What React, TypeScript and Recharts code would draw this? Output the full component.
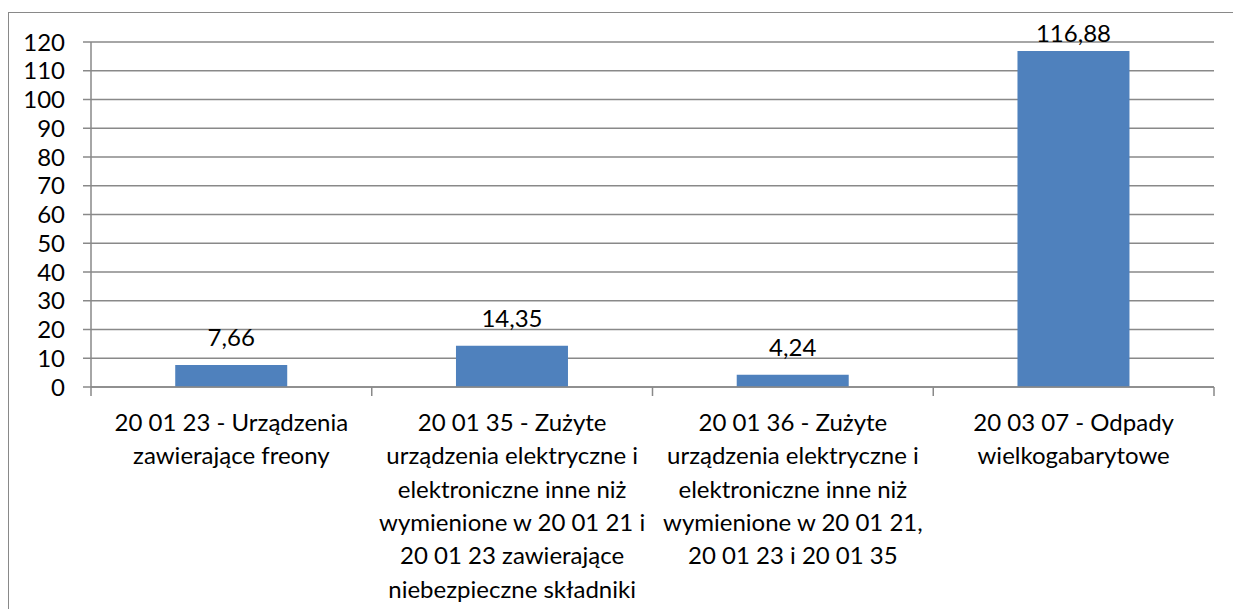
import { BarChart, Bar, XAxis, YAxis, CartesianGrid, LabelList } from 'recharts';

const categories = [
    '20 01 23 - Urządzenia zawierające freony',
    '20 01 35 - Zużyte urządzenia elektryczne i elektroniczne inne niż wymienione w 20 01 21 i 20 01 23 zawierające niebezpieczne składniki',
    '20 01 36 - Zużyte urządzenia elektryczne i elektroniczne inne niż wymienione w 20 01 21, 20 01 23 i 20 01 35',
    '20 03 07 - Odpady wielkogabarytowe',
];

// category labels as they are broken in the picture
const tickLabelLines = [
    ['20 01 23 - Urządzenia', 'zawierające freony'],
    ['20 01 35 - Zużyte', 'urządzenia elektryczne i', 'elektroniczne inne niż', 'wymienione w 20 01 21 i', '20 01 23 zawierające', 'niebezpieczne składniki'],
    ['20 01 36 - Zużyte', 'urządzenia elektryczne i', 'elektroniczne inne niż', 'wymienione w 20 01 21,', '20 01 23 i 20 01 35'],
    ['20 03 07 - Odpady', 'wielkogabarytowe'],
];

const values = [7.66, 14.35, 4.24, 116.88];

const yTicks = [0, 10, 20, 30, 40, 50, 60, 70, 80, 90, 100, 110, 120];

const FONT = 'Lato, "Open Sans", sans-serif';
const FONT_SIZE = 24;
const GRID = '#898989';
const BAR = '#4F81BD';
const TOP = 42;

const data = categories.map((name, i) => ({ name, idx: i, value: values[i] }));

const CategoryTick = (props: any) => {
    const { x, y, payload, index, width, visibleTicksCount } = props;
    const half = payload?.offset ?? width / visibleTicksCount / 2;
    const axisY = y - 9;
    const lines = tickLabelLines[index] ?? [String(payload.value)];
    return (
        <g>
            <line x1={x - half} x2={x - half} y1={axisY} y2={y} stroke={GRID} strokeWidth={1.5} />
            {index === visibleTicksCount - 1 && (
                <line x1={x + half} x2={x + half} y1={axisY} y2={y} stroke={GRID} strokeWidth={1.5} />
            )}
            <text x={x} y={y + 35} textAnchor="middle" fontFamily={FONT} fontSize={FONT_SIZE} fill="#000">
                {lines.map((l: string, i: number) => (
                    <tspan key={i} x={x} dy={i === 0 ? 0 : 33.3}>{l}</tspan>
                ))}
            </text>
        </g>
    );
};

const ValueLabel = (props: any) => {
    const { x, y, width, value } = props;
    const baseline = Math.max(y - 19, TOP);
    return (
        <text x={x + width / 2} y={baseline} textAnchor="middle" fontFamily={FONT} fontSize={FONT_SIZE} fill="#000">
            {Number(value).toFixed(2).replace('.', ',')}
        </text>
    );
};

export default function App() {
    return (
        <div style={{ position: 'absolute', left: 0, top: 0, width: 1233, height: 609, background: '#fff', overflow: 'hidden' }}>
            <div style={{ position: 'absolute', left: 8, top: 12, width: 1400, height: 800, border: `1.5px solid ${GRID}` }} />
            <div style={{ position: 'absolute', left: 0, top: 0 }}>
                <BarChart width={1233} height={609} data={data} margin={{ top: TOP, right: 19, left: 0, bottom: 0 }} barCategoryGap="30%">
                    <CartesianGrid vertical={false} stroke={GRID} strokeWidth={1.3} />
                    <XAxis
                        dataKey="name"
                        height={222}
                        interval={0}
                        tickLine={false}
                        tickSize={9}
                        tickMargin={0}
                        axisLine={{ stroke: GRID, strokeWidth: 1.5 }}
                        tick={<CategoryTick />}
                    />
                    <YAxis
                        width={91}
                        domain={[0, 120]}
                        ticks={yTicks}
                        interval={0}
                        tickSize={8}
                        tickMargin={18}
                        axisLine={{ stroke: GRID, strokeWidth: 1.5 }}
                        tickLine={{ stroke: GRID, strokeWidth: 1.5 }}
                        tick={{ fill: '#000', fontFamily: FONT, fontSize: FONT_SIZE }}
                    />
                    <Bar dataKey="value" fill={BAR} isAnimationActive={false}>
                        <LabelList dataKey="value" content={<ValueLabel />} />
                    </Bar>
                </BarChart>
            </div>
        </div>
    );
}
